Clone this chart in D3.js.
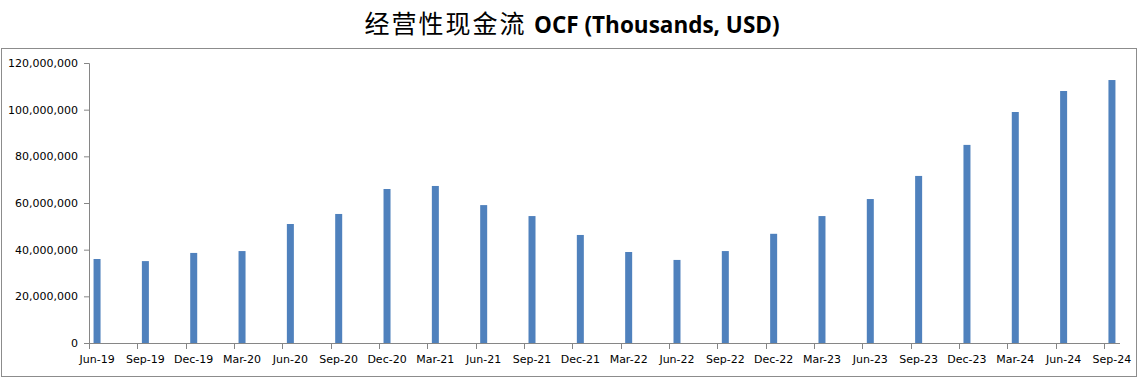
<!DOCTYPE html>
<html>
<head>
<meta charset="utf-8">
<script src="https://cdn.jsdelivr.net/npm/d3@7"></script>
<style>
  body { margin: 0; background: #fff; }
  svg { display: block; }
</style>
</head>
<body>
<svg id="main"></svg>
<script>
const width = 1145;
const height = 389;
const position = {
    left: 89,
    top: 63,
    right: 25,
    bottom: 46
};
const innerWidth = 1120 - position.left;
const innerHeight = 343 - position.top;

// quarters, one bar each
const categories = ['Jun-19', 'Sep-19', 'Dec-19', 'Mar-20', 'Jun-20', 'Sep-20', 'Dec-20', 'Mar-21',
    'Jun-21', 'Sep-21', 'Dec-21', 'Mar-22', 'Jun-22', 'Sep-22', 'Dec-22', 'Mar-23',
    'Jun-23', 'Sep-23', 'Dec-23', 'Mar-24', 'Jun-24', 'Sep-24'];
const ocfValues = [36000000, 35100000, 38600000, 39400000, 51000000, 55300000, 66000000, 67300000,
    59100000, 54400000, 46300000, 39000000, 35600000, 39400000, 46800000, 54400000,
    61700000, 71600000, 84900000, 99000000, 108000000, 112700000];
const yTicks = [0, 20000000, 40000000, 60000000, 80000000, 100000000, 120000000];

// date axis: one slot per month, Jun-19 .. Sep-24 = 64 months
const months = d3.range(categories.length * 3 - 2);
const data = categories.map((name, i) => ({ name, month: i * 3, value: ocfValues[i] }));

const mainSvg = d3.select('#main').attr('width', width).attr('height', height);

// outer frame
mainSvg.append('rect')
    .attr('x', 1.5).attr('y', 48.5)
    .attr('width', 1135).attr('height', 328)
    .attr('fill', 'none')
    .attr('stroke', '#8c8c8c')
    .attr('stroke-width', 1);

// title
const title = mainSvg.append('text')
    .attr('x', 572)
    .attr('y', 33)
    .attr('text-anchor', 'middle')
    .attr('fill', '#000');
title.append('tspan')
    .attr('font-family', '"Noto Sans CJK SC", sans-serif')
    .attr('font-size', 25)
    .attr('letter-spacing', 2)
    .text('经营性现金流 ');
title.append('tspan')
    .attr('font-family', '"Open Sans", Lato, sans-serif')
    .attr('font-weight', 'bold')
    .attr('font-size', 22.5)
    .text('OCF (Thousands, USD)');

const mainGroup = mainSvg
    .append('g')
    .attr('transform', `translate(${position.left}, ${position.top})`);

const xScale = d3
    .scaleBand()
    .domain(months)
    .range([0, innerWidth])
    .padding(0);
const yScale = d3
    .scaleLinear()
    .domain([0, 120000000])
    .range([innerHeight, 0]);

const barWidth = 7;

// bars
mainGroup
    .selectAll('rect.bar')
    .data(data)
    .join('rect')
    .attr('class', 'bar')
    .attr('fill', '#4f81bd')
    .attr('x', d => xScale(d.month) + xScale.bandwidth() / 2 - barWidth / 2)
    .attr('y', d => yScale(d.value))
    .attr('width', barWidth)
    .attr('height', d => innerHeight - yScale(d.value));

// y axis
const yAxis = d3.axisLeft(yScale)
    .tickValues(yTicks)
    .tickSize(5)
    .tickPadding(6)
    .tickFormat(d3.format(','));
mainGroup.append('g').attr('class', 'y-axis').call(yAxis);

// x axis: ticks at every quarter slot start, labels at slot centres
const xG = mainGroup.append('g')
    .attr('class', 'x-axis')
    .attr('transform', `translate(0,${innerHeight})`);
xG.append('line')
    .attr('x1', 0).attr('x2', innerWidth)
    .attr('y1', 0.5).attr('y2', 0.5);
xG.selectAll('line.tick')
    .data(data)
    .join('line')
    .attr('class', 'tick')
    .attr('x1', d => Math.round(xScale(d.month)) + 0.5)
    .attr('x2', d => Math.round(xScale(d.month)) + 0.5)
    .attr('y1', 0).attr('y2', 6);
xG.selectAll('text')
    .data(data)
    .join('text')
    .attr('x', d => xScale(d.month) + xScale.bandwidth() / 2)
    .attr('y', 20)
    .attr('text-anchor', 'middle')
    .text(d => d.name);

mainSvg.selectAll('.x-axis line, .y-axis line, .y-axis path')
    .attr('stroke', '#868686');
mainSvg.selectAll('.x-axis text, .y-axis text')
    .attr('fill', '#000')
    .attr('font-family', '"DejaVu Sans", sans-serif')
    .attr('font-size', 11);
</script>
</body>
</html>
